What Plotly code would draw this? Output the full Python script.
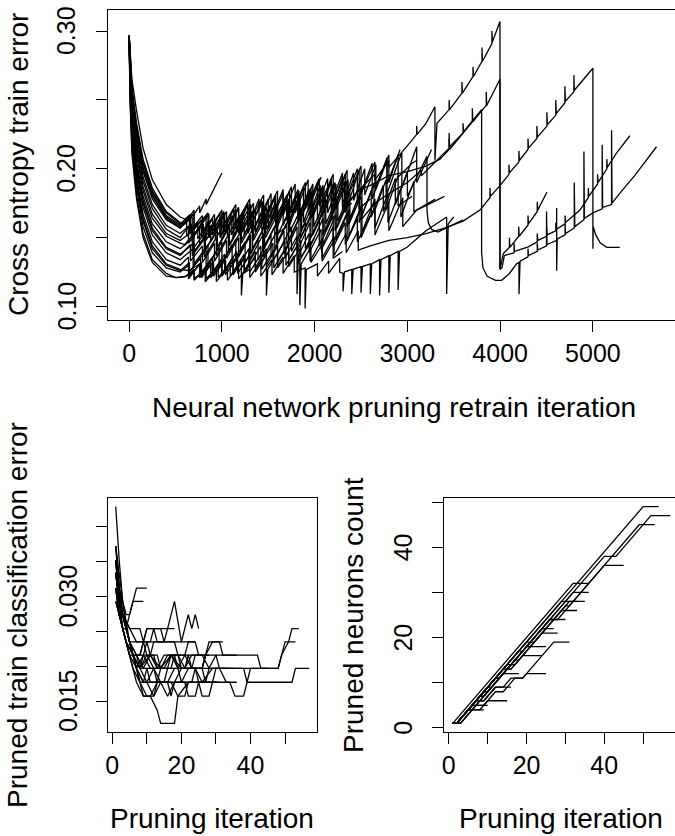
import plotly.graph_objects as go

# ---------------- Top panel: cross entropy train error per run (vertices x, y) -------------
ce_01 = [(0,.297),(10,.286),(30,.265),(80,.242),(150,.215),(250,.192),(400,.174),(550,.165),(620,.163),(711,.168),(760,.173),(760,.168),(830,.178),(830,.174),(900,.184),(1000,.197)]
ce_02 = [(0,.296),(10,.281),(30,.256),(80,.229),(150,.204),(250,.183),(400,.166),(550,.159),(650,.166),(650,.153),(780,.163),(780,.150),(900,.164),(900,.152),(1030,.168),(1030,.154),(1150,.170),(1150,.156),(1280,.175),(1280,.158),(1400,.178),(1400,.160),(1530,.182),(1530,.163),(1660,.185),(1660,.166),(1790,.189),(1790,.168),(1930,.192),(1930,.170),(2070,.194)]
ce_03 = [(0,.297),(10,.284),(30,.259),(80,.233),(150,.207),(250,.186),(400,.169),(550,.161),(600,.160),(700,.170),(700,.156),(850,.168),(850,.155),(1000,.170),(1000,.157),(1150,.174),(1150,.160),(1300,.178),(1300,.162),(1450,.181),(1450,.164),(1600,.184),(1600,.166),(1750,.187),(1750,.168),(1900,.190),(1900,.171),(2050,.193),(2050,.173),(2200,.196),(2200,.176),(2350,.199),(2350,.179),(2500,.202),(2500,.182),(2650,.205),(2650,.186),(2800,.210),(2800,.190),(2920,.214)]
ce_04 = [(0,.296),(10,.276),(30,.248),(80,.217),(150,.191),(250,.171),(400,.156),(550,.150),(640,.158),(640,.146),(760,.157),(760,.145),(880,.159),(880,.147),(1000,.162),(1000,.148),(1120,.164),(1120,.150),(1240,.167),(1240,.152),(1360,.170),(1360,.154),(1480,.172),(1480,.156),(1600,.175),(1600,.158),(1720,.178),(1720,.160),(1840,.181),(1840,.162),(1960,.184),(1960,.164),(2080,.186),(2080,.166),(2200,.189),(2200,.169),(2320,.191),(2320,.171),(2400,.175)]
ce_05 = [(0,.296),(10,.271),(30,.241),(80,.210),(150,.184),(250,.164),(400,.151),(550,.146),(600,.145),(700,.153),(700,.140),(820,.151),(820,.141),(950,.155),(950,.143),(1080,.158),(1080,.145),(1200,.160),(1200,.147),(1330,.163),(1330,.149),(1460,.166),(1460,.151),(1600,.170),(1600,.153),(1700,.158)]
ce_06 = [(0,.297),(10,.279),(30,.252),(80,.224),(150,.198),(250,.178),(400,.163),(550,.157),(680,.165),(680,.150),(830,.166),(830,.148),(980,.168),(980,.150),(1130,.171),(1130,.151),(1280,.174),(1280,.153),(1430,.177),(1430,.155),(1580,.181),(1580,.157),(1730,.184),(1730,.159),(1880,.187),(1880,.161),(2030,.190),(2030,.163),(2180,.193),(2180,.165),(2330,.196),(2330,.168),(2480,.199),(2480,.171),(2600,.178)]
ce_07 = [(0,.295),(10,.266),(30,.234),(80,.201),(150,.175),(250,.155),(400,.142),(550,.137),(660,.145),(660,.133),(790,.144),(790,.132),(920,.146),(920,.133),(1050,.148),(1050,.135),(1180,.150),(1180,.136),(1310,.152),(1310,.138),(1440,.155),(1440,.140),(1570,.158),(1570,.142),(1700,.161),(1700,.145),(1830,.164),(1830,.147),(1960,.167),(1960,.150),(2090,.170),(2090,.152),(2220,.173),(2220,.155),(2350,.176),(2350,.158),(2480,.180),(2480,.161),(2610,.184),(2610,.165),(2740,.188),(2740,.169),(2870,.193),(2870,.174),(3000,.198),(3000,.180),(3211,.209),(3211,.170),(3225,.161),(3260,.156),(3330,.154),(3450,.158),(3600,.163)]
ce_08 = [(0,.295),(10,.259),(30,.225),(80,.191),(150,.164),(250,.144),(400,.131),(550,.127),(650,.126),(760,.131),(760,.121),(880,.131),(880,.121),(1000,.132),(1000,.122),(1120,.133),(1120,.123),(1240,.135),(1240,.124),(1360,.136),(1360,.125),(1480,.138),(1480,.108),(1495,.127),(1600,.139),(1600,.128),(1720,.140),(1720,.129),(1840,.142),(1840,.101),(1855,.131),(1960,.143),(1960,.132),(2080,.145),(2080,.133),(2200,.147),(2200,.135),(2300,.140)]
ce_09 = [(0,.294),(10,.251),(30,.215),(80,.181),(150,.153),(250,.134),(400,.124),(500,.121),(620,.122),(700,.126),(700,.119),(820,.127),(820,.118),(940,.127),(940,.118),(1060,.128),(1060,.119),(1180,.130),(1180,.120),(1300,.131),(1300,.121),(1420,.133),(1420,.122),(1540,.134),(1540,.123),(1660,.136),(1660,.124),(1780,.137),(1780,.125),(1897,.128),(1897,.0985),(1910,.127),(2030,.131),(2030,.122),(2150,.133),(2150,.124),(2270,.135),(2270,.125),(2306,.124),(2306,.111),(2320,.125),(2400,.127),(2400,.109),(2415,.127),(2500,.129),(2500,.110),(2515,.129),(2600,.131),(2600,.109),(2615,.131),(2700,.134),(2700,.108),(2715,.134),(2800,.137),(2800,.110),(2815,.137),(2900,.140),(2900,.112),(2915,.140),(2996,.143),(3200,.155),(3423,.165),(3423,.109),(3440,.160),(3500,.165)]
ce_10 = [(0,.295),(10,.262),(30,.228),(80,.194),(150,.167),(250,.147),(400,.134),(550,.130),(640,.136),(640,.125),(770,.135),(770,.124),(900,.136),(900,.125),(1030,.138),(1030,.126),(1160,.140),(1160,.127),(1290,.142),(1290,.129),(1420,.144),(1420,.131),(1550,.146),(1550,.133),(1680,.148),(1680,.135),(1810,.151),(1810,.109),(1825,.137),(1940,.153),(1940,.139),(2070,.156),(2070,.141),(2200,.158),(2200,.143),(2330,.161),(2330,.145),(2460,.164),(2460,.147),(2600,.166)]
ce_11 = [(0,.296),(10,.277),(30,.250),(80,.220),(150,.194),(250,.174),(400,.159),(550,.153),(670,.160),(670,.149),(800,.160),(800,.148),(930,.162),(930,.149),(1060,.164),(1060,.151),(1190,.166),(1190,.152),(1320,.169),(1320,.154),(1450,.171),(1450,.156),(1580,.174),(1580,.158),(1710,.177),(1710,.160),(1840,.180),(1840,.162),(1970,.183),(1970,.165),(2100,.186),(2100,.168),(2230,.189),(2230,.171),(2360,.192),(2360,.175),(2500,.186),(2650,.196),(2650,.192),(2800,.206),(2800,.201),(3028,.219),(3100,.225),(3100,.231),(3105,.225),(3200,.233),(3297,.245),(3297,.206),(3319,.233),(3450,.243),(3450,.250),(3455,.243),(3588,.255),(3588,.263),(3593,.255),(3707,.267),(3707,.274),(3712,.267),(3804,.278),(3804,.288),(3809,.278),(3911,.291),(3911,.300),(3916,.292),(3998,.307),(3998,.127),(4034,.1385),(4100,.143),(4100,.150),(4105,.143),(4200,.151),(4200,.158),(4205,.151),(4300,.159),(4300,.166),(4305,.160),(4400,.169),(4400,.176),(4405,.170),(4504,.183)]
ce_12 = [(0,.297),(10,.282),(30,.257),(80,.231),(150,.205),(250,.184),(400,.168),(550,.160),(660,.167),(660,.155),(790,.166),(790,.153),(920,.167),(920,.154),(1050,.169),(1050,.156),(1180,.171),(1180,.157),(1310,.174),(1310,.159),(1440,.176),(1440,.161),(1570,.179),(1570,.163),(1700,.181),(1700,.165),(1830,.184),(1830,.167),(1960,.186),(1960,.169),(2090,.188),(2090,.171),(2220,.190),(2220,.173),(2350,.191),(2350,.175),(2480,.185),(2600,.188),(2800,.195),(3000,.198),(3200,.202),(3351,.207),(3450,.214),(3450,.226),(3455,.214),(3600,.226),(3700,.234),(3700,.244),(3705,.234),(3800,.242),(3850,.246),(3850,.256),(3855,.246),(3998,.265),(3998,.127),(4020,.128),(4045,.137),(4150,.139),(4150,.146),(4155,.140),(4303,.1433),(4400,.147),(4400,.153),(4405,.148),(4500,.151),(4500,.157),(4505,.152),(4600,.155),(4600,.161),(4605,.156),(4700,.160),(4700,.166),(4705,.161),(4860,.170),(4950,.179),(4950,.186),(4955,.180),(5050,.189),(5050,.196),(5055,.190),(5150,.200),(5150,.207),(5155,.201),(5260,.212),(5399,.224)]
ce_13 = [(0,.295),(10,.268),(30,.237),(80,.205),(150,.180),(250,.160),(400,.147),(550,.142),(680,.149),(680,.137),(810,.149),(810,.136),(940,.150),(940,.137),(1070,.152),(1070,.139),(1200,.154),(1200,.140),(1330,.156),(1330,.142),(1460,.158),(1460,.144),(1590,.161),(1590,.146),(1720,.163),(1720,.148),(1850,.166),(1850,.150),(1980,.168),(1980,.152),(2110,.171),(2110,.154),(2240,.174),(2240,.157),(2370,.177),(2370,.160),(2500,.180),(2500,.163),(2650,.175),(2800,.182),(3000,.190),(3150,.199),(3150,.195),(3320,.206),(3450,.215),(3450,.222),(3455,.216),(3600,.226),(3600,.233),(3605,.227),(3800,.243),(3800,.139),(3815,.128),(3860,.122),(3950,.119),(4016,.119),(4100,.124),(4177,.131),(4203,.132),(4203,.109),(4215,.133),(4300,.136),(4300,.142),(4305,.137),(4400,.140),(4400,.146),(4405,.141),(4500,.144),(4500,.169),(4505,.145),(4609,.148),(4609,.1715),(4609,.126),(4615,.149),(4700,.152),(4700,.160),(4705,.153),(4799,.157),(4799,.190),(4805,.158),(4903,.163),(4903,.2126),(4908,.164),(5000,.168),(5100,.171),(5100,.2175),(5105,.172),(5201,.174),(5201,.228),(5206,.175),(5300,.183),(5450,.195),(5686,.216)]
ce_14 = [(0,.295),(10,.257),(30,.223),(80,.189),(150,.162),(250,.142),(400,.130),(550,.126),(650,.132),(650,.122),(780,.132),(780,.121),(910,.133),(910,.122),(1040,.134),(1040,.123),(1170,.136),(1170,.124),(1300,.137),(1300,.125),(1430,.139),(1430,.127),(1560,.141),(1560,.128),(1690,.143),(1690,.130),(1820,.145),(1820,.131),(1950,.147),(1950,.133),(2080,.149),(2080,.135),(2210,.151),(2210,.137),(2340,.153),(2340,.139),(2470,.155),(2470,.141),(2600,.144),(2800,.148),(3000,.150),(3200,.153),(3400,.157),(3600,.162),(3782,.170),(3890,.179),(3890,.186),(3895,.180),(4000,.188),(4095,.196),(4095,.203),(4100,.197),(4202,.205),(4202,.213),(4207,.206),(4300,.214),(4300,.222),(4305,.215),(4396,.222),(4396,.231),(4401,.223),(4504,.231),(4504,.241),(4509,.232),(4600,.239),(4600,.250),(4605,.240),(4698,.248),(4698,.260),(4703,.249),(4795,.256),(4795,.268),(4800,.257),(5000,.273),(5000,.142),(5003,.158),(5030,.152),(5080,.146),(5150,.143),(5290,.143)]
ce_15 = [(0,.296),(10,.279),(30,.253),(80,.226),(150,.200),(250,.180),(400,.164),(550,.157),(620,.163),(620,.151),(740,.161),(740,.149),(860,.162),(860,.150),(980,.164),(980,.151),(1100,.166),(1100,.152),(1220,.168),(1220,.154),(1340,.170),(1340,.156),(1460,.173),(1460,.158),(1580,.176),(1580,.160),(1700,.179),(1700,.162),(1820,.182),(1820,.164),(1940,.185),(1940,.166),(2060,.188),(2060,.168),(2180,.191),(2180,.171),(2300,.194),(2300,.174),(2420,.197),(2420,.177),(2540,.200),(2540,.181),(2660,.203),(2660,.185),(2780,.206),(2780,.189),(2900,.210),(2900,.194),(3050,.204),(3100,.206)]
ce_16 = [(0,.295),(10,.267),(30,.236),(80,.203),(150,.177),(250,.157),(400,.143),(550,.138),(700,.146),(700,.131),(850,.145),(850,.130),(1000,.147),(1000,.131),(1150,.149),(1150,.133),(1300,.151),(1300,.134),(1450,.153),(1450,.136),(1600,.156),(1600,.138),(1750,.158),(1750,.140),(1900,.161),(1900,.142),(2050,.163),(2050,.144),(2200,.166),(2200,.146),(2350,.168),(2350,.148),(2500,.171),(2500,.150),(2650,.173),(2650,.152),(2800,.176),(2800,.155),(2950,.179),(2950,.158),(3100,.170),(3250,.175),(3400,.180)]
ce_17 = [(0,.294),(10,.255),(30,.220),(80,.186),(150,.158),(250,.139),(400,.128),(550,.125),(640,.130),(640,.120),(760,.131),(760,.121),(880,.133),(880,.122),(1000,.134),(1000,.123),(1120,.136),(1120,.125),(1240,.138),(1240,.126),(1360,.140),(1360,.128),(1480,.142),(1480,.130),(1600,.144),(1600,.132),(1720,.146),(1720,.134),(1850,.148),(1850,.136),(2000,.150)]
ce_18 = [(0,.296),(10,.273),(30,.244),(80,.213),(150,.187),(250,.167),(400,.153),(550,.148),(690,.155),(690,.142),(820,.154),(820,.141),(950,.156),(950,.143),(1080,.158),(1080,.144),(1210,.160),(1210,.146),(1340,.162),(1340,.148),(1470,.165),(1470,.150),(1600,.167),(1600,.152),(1730,.170),(1730,.154),(1860,.172),(1860,.156),(1990,.175),(1990,.158),(2120,.178),(2120,.160),(2250,.180),(2250,.162),(2380,.183),(2380,.164),(2510,.186),(2510,.166),(2640,.189),(2640,.168),(2770,.192),(2770,.170),(2900,.195),(2900,.173),(3050,.180)]
ce_19 = [(0,.293),(10,.248),(30,.211),(80,.178),(150,.150),(250,.132),(400,.122),(520,.121),(600,.1215),(700,.127),(700,.120),(830,.128),(830,.120),(960,.130),(960,.121),(1090,.132),(1090,.122),(1210,.134),(1210,.108),(1225,.124),(1300,.127)]
ce_20 = [(0,.296),(10,.280),(30,.254),(80,.227),(150,.201),(250,.181),(400,.165),(550,.158),(700,.167),(700,.152),(860,.167),(860,.150),(1020,.169),(1020,.151),(1180,.172),(1180,.153),(1340,.175),(1340,.155),(1500,.178),(1500,.157),(1660,.182),(1660,.159),(1820,.185),(1820,.162),(1980,.189),(1980,.165),(2140,.193),(2140,.168),(2300,.197),(2300,.171),(2460,.200),(2460,.175),(2620,.204),(2620,.178),(2780,.208),(2780,.182),(2940,.212),(2940,.186),(3100,.216),(3100,.190),(3260,.214)]
ce_21 = [(0,.295),(10,.264),(30,.231),(80,.198),(150,.172),(250,.152),(400,.139),(550,.134),(690,.142),(690,.129),(830,.141),(830,.128),(970,.143),(970,.129),(1110,.145),(1110,.131),(1250,.147),(1250,.132),(1390,.149),(1390,.134),(1530,.152),(1530,.136),(1670,.155),(1670,.138),(1810,.158),(1810,.140),(1950,.161),(1950,.143),(2090,.164),(2090,.145),(2230,.167),(2230,.148),(2370,.170),(2370,.151),(2510,.174),(2510,.154),(2650,.178),(2650,.157),(2790,.182),(2790,.161),(2930,.186),(2930,.165),(3070,.191),(3070,.169),(3200,.174),(3300,.178)]
CE_RUNS = [ce_01, ce_02, ce_03, ce_04, ce_05, ce_06, ce_07, ce_08, ce_09, ce_10,
           ce_11, ce_12, ce_13, ce_14, ce_15, ce_16, ce_17, ce_18, ce_19, ce_20, ce_21]

# ---------------- Bottom-left: pruned train classification error (iteration, error) -------
er_01 = [(1,.0372),(2,.0312),(3,.0274),(4,.0254),(6,.0216),(8,.0197),(10,.0177),(12,.0197),(14,.0177),(20,.0177),(22,.0197),(38,.0197),(39,.0177),(40,.0197),(48,.0197),(49,.0216),(51,.0235),(52,.0254),(54,.0254)]
er_02 = [(1,.0352),(2,.0293),(3,.0254),(5,.0216),(7,.0177),(9,.0157),(11,.0157),(13,.0177),(17,.0177),(19,.0157),(22,.0177),(34,.0177),(35.5,.0157),(38,.0157),(39,.0177),(52,.0177),(53,.0197),(57,.0197)]
er_03 = [(1,.0429),(2,.0352),(3,.0293),(5,.0235),(7,.0197),(9,.0177),(16,.0177),(18,.0197),(24,.0197),(26,.0177),(29,.0197),(48,.0197),(49,.0216),(50,.0235),(53,.0235)]
er_04 = [(1,.0333),(2,.0293),(4,.0254),(6,.0216),(8,.0197),(11,.0216),(14,.0197),(17,.0216),(20,.0197),(26,.0197),(27,.0216),(29,.0235),(31,.0235),(32,.0216),(40,.0216),(42,.0216),(43,.0197),(45,.0197)]
er_05 = [(1,.0352),(2,.0293),(3,.0274),(5,.0235),(7,.0216),(9,.0197),(11,.0216),(13,.0197),(15,.0216),(19,.0216),(21,.0197),(23,.0216),(26,.0216),(28,.0197),(30,.0216),(36,.0216)]
er_06 = [(1,.0312),(2,.0274),(4,.0235),(6,.0197),(8,.0177),(10,.0177),(12,.0157),(14,.0177),(16,.0157),(18,.0177),(20,.0197),(24,.0197),(25,.0177),(27,.0177),(28,.0197),(31,.0197),(33,.0177),(36,.0177)]
er_07 = [(1,.0372),(2,.0312),(3,.0274),(5,.0235),(7,.0197),(9,.0216),(11,.0197),(15,.0197),(17,.0216),(19,.0197),(21,.0216),(23,.0197),(26,.0197),(27,.0216),(28,.0235),(32,.0235)]
er_08 = [(1,.0293),(2,.0274),(3,.0254),(5,.0216),(7,.0197),(9,.0157),(12,.0157),(13,.0177),(16,.0177),(17,.0157),(18,.0177),(21,.0177),(22,.0157),(24,.0157),(25,.0177),(29,.0177),(30,.0197),(35,.0197)]
er_09 = [(1,.0352),(2,.0293),(4,.0254),(6,.0216),(8,.0177),(10,.0157),(11,.0157),(13,.0137),(14,.0118),(18,.0118),(19,.0157),(21,.0157),(22,.0177),(25,.0177),(26,.0157),(28,.0157),(29,.0177),(31,.0177)]
er_10 = [(1,.0335),(2,.0293),(4,.0254),(5,.0235),(20,.0235),(21,.0254),(22,.0274),(23,.0254),(24,.0274),(25,.0254)]
er_11 = [(1,.0352),(2,.0312),(3,.0274),(5,.0254),(8,.0254),(9,.0235),(11,.0235),(12,.0254),(16,.0254),(18,.0293),(20,.0235),(24,.0235)]
er_12 = [(1,.0312),(2,.0274),(4,.0235),(6,.0216),(8,.0197),(10,.0216),(12,.0197),(14,.0197),(16,.0216),(18,.0216),(19,.0197),(21,.0197),(22,.0216),(25,.0216)]
er_13 = [(1,.0333),(2,.0293),(3,.0274),(5,.0254),(7,.0235),(9,.0235),(10,.0216),(12,.0216),(13,.0197),(16,.0197)]
er_14 = [(1,.0312),(2,.0274),(3,.0274),(4,.0254),(6,.0216),(8,.0197),(9,.0216),(11,.0216),(12,.0235),(15,.0235)]
er_15 = [(1,.0352),(2,.0312),(3,.0293),(4,.0274),(5,.0274),(6,.0293),(7,.0312),(10,.0312)]
er_16 = [(1,.0333),(2,.0293),(3,.0274),(4,.0254),(5,.0274),(6,.0293),(9,.0293)]
er_17 = [(1,.0312),(2,.0293),(3,.0254),(5,.0216),(7,.0216),(8,.0197),(10,.0197),(11,.0177),(13,.0177),(14,.0197),(16,.0197),(17,.0216),(19,.0216),(20,.0197),(23,.0197),(24,.0216),(27,.0216)]
er_18 = [(1,.0372),(2,.0333),(3,.0293),(4,.0254),(6,.0216),(7,.0197),(9,.0177),(10,.0197),(12,.0197),(13,.0177),(15,.0177),(16,.0197),(19,.0197),(20,.0177),(23,.0177),(24,.0197),(26,.0197),(27,.0177),(30,.0177)]
er_19 = [(1,.0333),(2,.0293),(3,.0254),(4,.0235),(6,.0216),(8,.0216),(9,.0235),(10,.0254),(14,.0254),(15,.0235),(18,.0235),(19,.0216),(22,.0216),(23,.0197),(26,.0197),(27,.0216),(30,.0216),(31,.0197),(33,.0197)]
er_20 = [(1,.0352),(2,.0312),(3,.0274),(4,.0254),(5,.0235),(7,.0216),(9,.0216),(10,.0235),(11,.0216),(13,.0216),(14,.0197),(17,.0197),(18,.0216),(21,.0216),(22,.0235),(24,.0235),(25,.0216),(28,.0216)]
er_21 = [(1,.0293),(2,.0274),(3,.0254),(4,.0254),(5,.0235),(6,.0216),(8,.0216),(9,.0235),(10,.0254),(12,.0254),(13,.0235),(15,.0235),(16,.0254),(18,.0254)]
ER_RUNS = [er_01, er_02, er_03, er_04, er_05, er_06, er_07, er_08, er_09, er_10, er_11,
           er_12, er_13, er_14, er_15, er_16, er_17, er_18, er_19, er_20, er_21]

# ---------------- Bottom-right: pruned neurons count (iteration, count) -------------------
nc_01 = [(1,1),(2,1),(50,49),(54,49)]
nc_02 = [(1,1),(2,1),(20,19),(21,19),(40,38),(43,38),(52,47),(57,47)]
nc_03 = [(1,1),(3,1),(15,13),(16,13),(30,27),(31,27),(49,45),(53,45)]
nc_04 = [(1,1),(2,1),(12,11),(13,11),(26,24),(28,24),(40,36),(45,36)]
nc_05 = [(1,1),(32,32),(36,32)]
nc_06 = [(1,1),(2,1),(12,11),(13,11),(32,30),(36,30)]
nc_07 = [(1,1),(2,1),(29,28),(33,28)]
nc_08 = [(1,1),(3,1),(17,15),(18,15),(31,28),(35,28)]
nc_09 = [(1,1),(2,1),(6,5),(9,5),(12,8),(14,8),(17,11),(19,11),(27,19),(31,19)]
nc_10 = [(1,1),(2,1),(7,6),(9,6),(12,9),(14,9),(16,11),(19,11),(20,12),(25,12)]
nc_11 = [(1,1),(2,1),(14,13),(16,13),(19,16),(24,16)]
nc_12 = [(1,1),(2,1),(10,9),(11,9),(16,14),(17,14),(21,18),(25,18)]
nc_13 = [(1,1),(2,1),(7,6),(9,6),(12,9),(16,9)]
nc_14 = [(1,1),(2,1),(5,4),(8,4),(10,6),(15,6)]
nc_15 = [(1,1),(2,1),(5,4),(6,4),(7,5),(10,5)]
nc_16 = [(1,1),(2,1),(5,4),(9,4)]
nc_17 = [(1,1),(2,1),(8,7),(9,7),(24,22),(27,22)]
nc_18 = [(1,1),(2,1),(18,17),(19,17),(26,24),(30,24)]
nc_19 = [(1,1),(2,1),(15,14),(16,14),(21,19),(22,19),(29,26),(33,26)]
nc_20 = [(1,1),(3,1),(20,18),(21,18),(24,21),(28,21)]
nc_21 = [(1,1),(2,1),(9,8),(10,8),(14,12),(18,12)]
NC_RUNS = [nc_01, nc_02, nc_03, nc_04, nc_05, nc_06, nc_07, nc_08, nc_09, nc_10, nc_11,
           nc_12, nc_13, nc_14, nc_15, nc_16, nc_17, nc_18, nc_19, nc_20, nc_21]

# ---------------- Ticks and tick labels ----------------
top_xticks = [0, 1000, 2000, 3000, 4000, 5000]
top_yticks = [0.10, 0.15, 0.20, 0.25, 0.30]
top_ylabel_vals = [0.10, 0.20, 0.30]
bl_xticks = [0, 10, 20, 30, 40, 50]
bl_xlabels = ["0", "", "20", "", "40", ""]
bl_yticks = [0.015, 0.020, 0.025, 0.030, 0.035, 0.040]
bl_ylabel_vals = [0.015, 0.030]
br_xticks = [0, 10, 20, 30, 40, 50]
br_xlabels = ["0", "", "20", "", "40", ""]
br_yticks = [0, 10, 20, 30, 40, 50]
br_ylabel_vals = [0, 20, 40]

W, H = 675, 836
FONT = "Liberation Sans, Arial, Helvetica, sans-serif"
LW = 1.3
TICK_SIZE = 25
TITLE_SIZE = 28

fig = go.Figure()

def add_runs(runs, xa, ya):
    for run in runs:
        xs = [p[0] for p in run]
        ys = [p[1] for p in run]
        fig.add_trace(go.Scatter(x=xs, y=ys, mode="lines", xaxis=xa, yaxis=ya,
                                 line=dict(color="black", width=LW), showlegend=False,
                                 hoverinfo="skip"))

add_runs(CE_RUNS, "x", "y")
add_runs(ER_RUNS, "x2", "y2")
add_runs(NC_RUNS, "x3", "y3")

def px_x(p):
    return p / W

def px_y(p):
    return 1 - p / H

axis_common = dict(showgrid=False, zeroline=False, ticks="outside", ticklen=11,
                   tickwidth=1, tickcolor="black", linecolor="black", linewidth=1,
                   showline=True, automargin=False,
                   tickfont=dict(family=FONT, size=TICK_SIZE, color="black"))

fig.update_layout(
    width=W, height=H, margin=dict(l=0, r=0, t=0, b=0, autoexpand=False),
    paper_bgcolor="white", plot_bgcolor="white",
    font=dict(family=FONT, color="black"),
    xaxis=dict(domain=[px_x(108), 1.0], range=[-228, 5885], anchor="y",
               tickvals=top_xticks, ticktext=[str(v) for v in top_xticks],
               mirror=True, **axis_common),
    yaxis=dict(domain=[px_y(320), px_y(10)], range=[0.0902, 0.3153], anchor="x",
               tickvals=top_yticks, ticktext=[""] * len(top_yticks), mirror=False,
               **axis_common),
    xaxis2=dict(domain=[px_x(108), px_x(317)], range=[-1.24, 59.24], anchor="y2",
                tickvals=bl_xticks, ticktext=bl_xlabels, mirror=True, **axis_common),
    yaxis2=dict(domain=[px_y(732), px_y(498)], range=[0.01056, 0.04414], anchor="x2",
                tickvals=bl_yticks, ticktext=[""] * len(bl_yticks), mirror=True,
                **axis_common),
    xaxis3=dict(domain=[px_x(444), 1.0], range=[-1.24, 58.2], anchor="y3",
                tickvals=br_xticks, ticktext=br_xlabels, mirror=True, **axis_common),
    yaxis3=dict(domain=[px_y(732), px_y(498)], range=[-0.92, 50.92], anchor="x3",
                tickvals=br_yticks, ticktext=[""] * len(br_yticks), mirror=False,
                **axis_common),
)

# rotated y tick labels (parallel to the axis, as in the original)
def ylabels(vals, yref, xpix, fmt):
    for v in vals:
        fig.add_annotation(text=fmt.format(v), x=px_x(xpix), y=v, xref="paper", yref=yref,
                           xanchor="center", yanchor="middle", showarrow=False,
                           textangle=-90,
                           font=dict(family=FONT, size=TICK_SIZE, color="black"))

ylabels(top_ylabel_vals, "y", 66, "{:.2f}")
ylabels(bl_ylabel_vals, "y2", 68, "{:.3f}")
ylabels(br_ylabel_vals, "y3", 403, "{:d}")

titles = [
    ("Neural network pruning retrain iteration", 393.5, 407, 0),
    ("Cross entropy train error", 18, 165, -90),
    ("Pruning iteration", 212, 818, 0),
    ("Pruning iteration", 561, 818, 0),
    ("Pruned train classification error", 17, 615, -90),
    ("Pruned neurons count", 353, 615, -90),
]
for text, tx, ty, ang in titles:
    fig.add_annotation(text=text, x=px_x(tx), y=px_y(ty), xref="paper", yref="paper",
                       xanchor="center", yanchor="middle", showarrow=False,
                       textangle=ang, font=dict(family=FONT, size=TITLE_SIZE, color="black"))

fig.write_html("out.html", config={"displayModeBar": False},
               post_script="document.body.style.margin='0px';document.body.style.overflow='hidden';")
